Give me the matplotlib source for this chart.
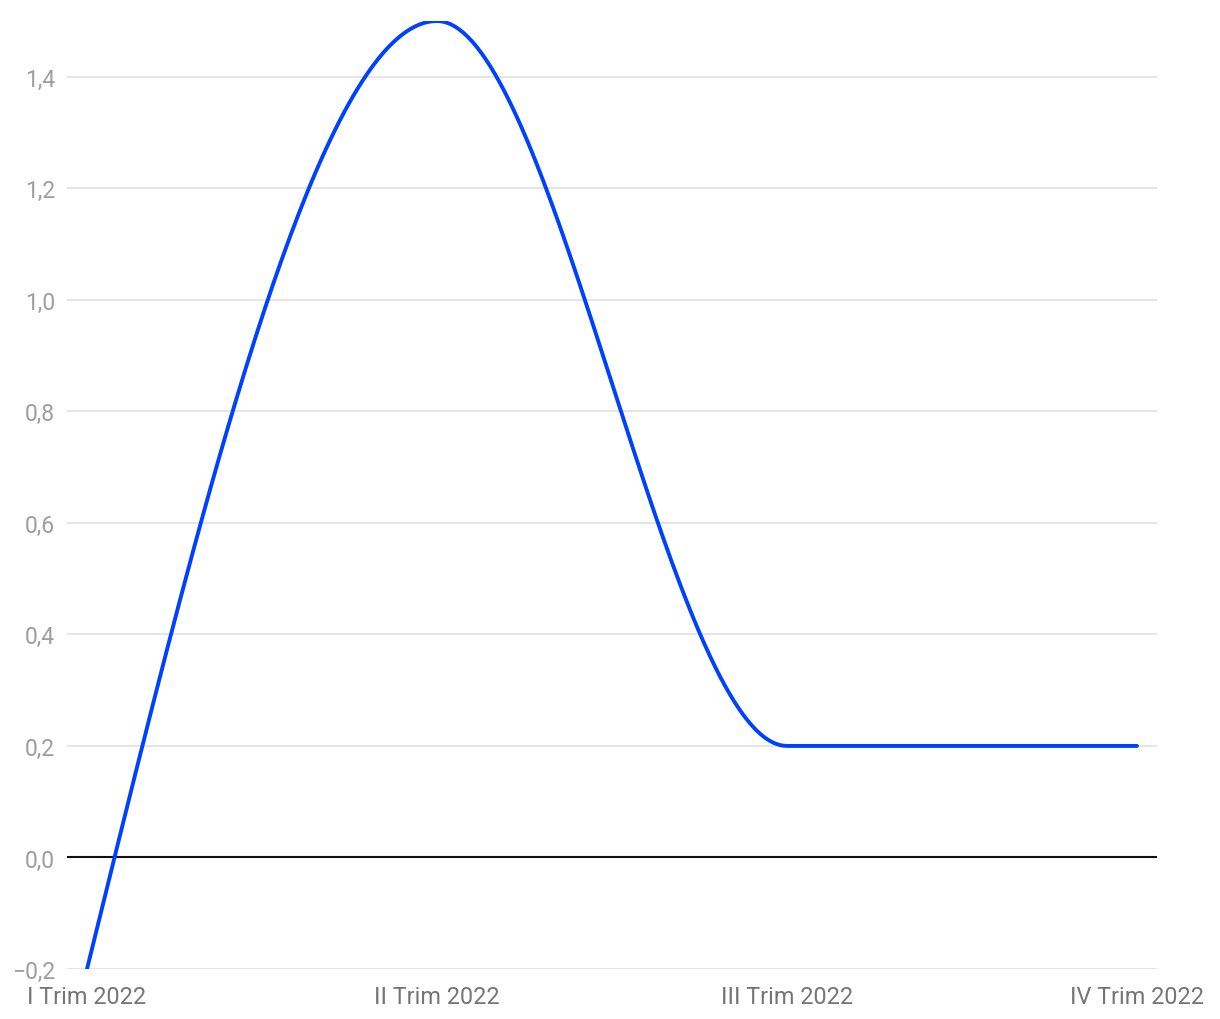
import numpy as np
import matplotlib.pyplot as plt

plt.rcParams['font.family'] = ['Roboto', 'DejaVu Sans']

quarters = ["I Trim 2022", "II Trim 2022", "III Trim 2022", "IV Trim 2022"]
values = [-0.2, 1.5, 0.2, 0.2]
yticks = [-0.2, 0.0, 0.2, 0.4, 0.6, 0.8, 1.0, 1.2, 1.4]


def monotone_curve(x, y, n=80):
    # monotone cubic (same rule as d3 curveMonotoneX)
    x = np.asarray(x, float)
    y = np.asarray(y, float)
    h = np.diff(x)
    s = np.diff(y) / h
    t = np.zeros(len(x))
    for i in range(1, len(x) - 1):
        p = (s[i - 1] * h[i] + s[i] * h[i - 1]) / (h[i - 1] + h[i])
        t[i] = (np.sign(s[i - 1]) + np.sign(s[i])) * min(abs(s[i - 1]), abs(s[i]), 0.5 * abs(p))
    t[0] = (3 * s[0] - t[1]) / 2
    t[-1] = (3 * s[-1] - t[-2]) / 2
    xs, ys = [], []
    for i in range(len(x) - 1):
        u = np.linspace(0, 1, n)
        dx = h[i] / 3
        p0 = np.array([x[i], y[i]])
        p1 = np.array([x[i] + dx, y[i] + dx * t[i]])
        p2 = np.array([x[i + 1] - dx, y[i + 1] - dx * t[i + 1]])
        p3 = np.array([x[i + 1], y[i + 1]])
        b = ((1 - u) ** 3)[:, None] * p0 + (3 * (1 - u) ** 2 * u)[:, None] * p1 \
            + (3 * (1 - u) * u ** 2)[:, None] * p2 + (u ** 3)[:, None] * p3
        xs.extend(b[:, 0])
        ys.extend(b[:, 1])
    return np.array(xs), np.array(ys)


fig = plt.figure(figsize=(12.2, 10.2), dpi=100)
ax = fig.add_axes([67 / 1220, 50 / 1020, 1090 / 1220, 948 / 1020])

pos = np.arange(len(quarters))
cx, cy = monotone_curve(pos, values)

for v in yticks:
    if v == 0:
        ax.axhline(v, color="#111111", lw=1.5, zorder=2)
    else:
        ax.axhline(v, color="#e3e3e3", lw=1.3, zorder=1)

ax.plot(cx, cy, color="#0040ff", lw=2.8, solid_capstyle="round", zorder=3)

ax.set_xlim(-20 / 350, 3 + 20 / 350)
ax.set_ylim(-0.2, 1.5)
ax.set_yticks(yticks)
ax.set_yticklabels([f"{v:.1f}".replace(".", ",").replace("-", "\u2212") for v in yticks])
ax.set_xticks(pos)
ax.set_xticklabels(quarters)

ax.tick_params(axis="y", length=0, pad=8.5, labelsize=16.5, labelcolor="#9e9e9e")
ax.tick_params(axis="x", length=0, pad=11.5, labelsize=16.8, labelcolor="#757575")
for sp in ax.spines.values():
    sp.set_visible(False)

fig.savefig("out.png", dpi=100, facecolor="white")
